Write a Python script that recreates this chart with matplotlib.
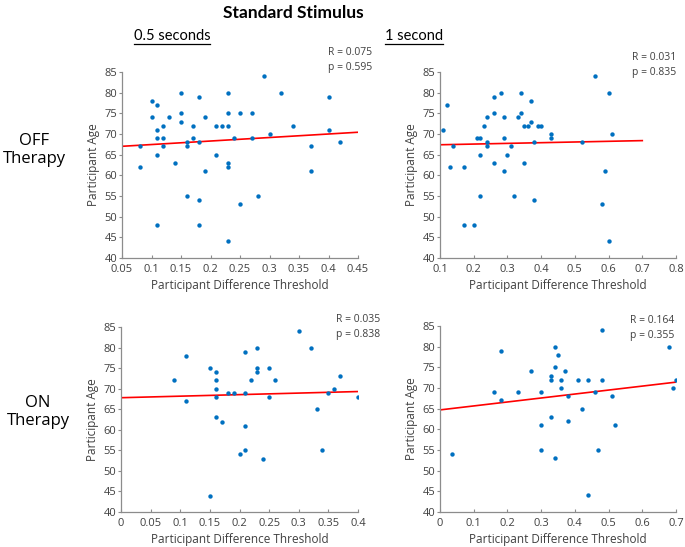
import matplotlib
matplotlib.use('Agg')
import numpy as np
import matplotlib.pyplot as plt
from matplotlib.lines import Line2D

plt.rcParams['font.family'] = ['Open Sans', 'DejaVu Sans']

# OFF therapy, 0.5 seconds
off05_x = [0.08, 0.08, 0.10, 0.10, 0.11, 0.11, 0.11, 0.11, 0.11, 0.12, 0.12, 0.12, 0.13,
           0.14, 0.15, 0.15, 0.15, 0.16, 0.16, 0.16, 0.17, 0.17, 0.18, 0.18, 0.18, 0.18,
           0.19, 0.19, 0.21, 0.21, 0.22, 0.23, 0.23, 0.23, 0.23, 0.23, 0.23, 0.24, 0.25,
           0.25, 0.27, 0.27, 0.28, 0.29, 0.30, 0.32, 0.34, 0.37, 0.37, 0.40, 0.40, 0.42]
off05_y = [67, 62, 78, 74, 77, 71, 69, 65, 48, 72, 69, 67, 74,
           63, 80, 75, 73, 68, 67, 55, 72, 69, 79, 68, 54, 48,
           74, 61, 72, 65, 72, 80, 75, 72, 63, 62, 44, 69, 75,
           53, 75, 69, 55, 84, 70, 80, 72, 67, 61, 79, 71, 68]

# OFF therapy, 1 second
off1_x = [0.11, 0.12, 0.13, 0.14, 0.17, 0.17, 0.20, 0.21, 0.22, 0.22, 0.22, 0.23, 0.24,
          0.24, 0.24, 0.26, 0.26, 0.26, 0.28, 0.29, 0.29, 0.29, 0.30, 0.31, 0.32, 0.33,
          0.34, 0.34, 0.35, 0.35, 0.36, 0.37, 0.37, 0.38, 0.38, 0.39, 0.40, 0.43, 0.43,
          0.52, 0.56, 0.58, 0.59, 0.60, 0.60, 0.61]
off1_y = [71, 77, 62, 67, 62, 48, 48, 69, 69, 65, 55, 72, 74,
          68, 67, 79, 75, 63, 80, 74, 69, 61, 65, 67, 55, 74,
          80, 75, 72, 63, 72, 78, 73, 68, 54, 72, 72, 70, 69,
          68, 84, 53, 61, 80, 44, 70]

# ON therapy, 0.5 seconds
on05_x = [0.09, 0.11, 0.11, 0.15, 0.15, 0.16, 0.16, 0.16, 0.16, 0.16, 0.17, 0.18, 0.19,
          0.20, 0.21, 0.21, 0.21, 0.21, 0.22, 0.23, 0.23, 0.23, 0.24, 0.25, 0.25, 0.26,
          0.30, 0.32, 0.33, 0.34, 0.35, 0.36, 0.37, 0.40]
on05_y = [72, 78, 67, 75, 44, 74, 72, 70, 68, 63, 62, 69, 69,
          54, 79, 69, 61, 55, 72, 80, 75, 74, 53, 75, 68, 72,
          84, 80, 65, 55, 69, 70, 73, 68]

# ON therapy, 1 second
on1_x = [0.035, 0.16, 0.18, 0.18, 0.23, 0.27, 0.30, 0.30, 0.30, 0.33, 0.33, 0.33,
         0.34, 0.34, 0.34, 0.35, 0.36, 0.36, 0.37, 0.38, 0.38, 0.41, 0.42, 0.44,
         0.44, 0.46, 0.47, 0.48, 0.48, 0.51, 0.52, 0.68, 0.69, 0.70]
on1_y = [54, 69, 79, 67, 69, 74, 69, 61, 55, 73, 72, 63,
         80, 75, 53, 78, 72, 70, 74, 68, 62, 72, 65, 72,
         44, 69, 55, 84, 72, 68, 61, 80, 70, 72]

# linear trend lines: (intercept, slope, x from, x to)
trend_off05 = (66.6, 8.5, 0.05, 0.45)
trend_off1 = (67.23, 1.67, 0.1, 0.7)
trend_on05 = (67.8, 3.75, 0.0, 0.4)
trend_on1 = (64.7, 9.6, 0.0, 0.7)

stats_text = ['R = 0.075\np = 0.595', 'R = 0.031\np = 0.835',
              'R = 0.035\np = 0.838', 'R = 0.164\np = 0.355']

panels = [
    (off05_x, off05_y, trend_off05, (0.05, 0.45), np.arange(0.05, 0.451, 0.05)),
    (off1_x, off1_y, trend_off1, (0.1, 0.8), np.arange(0.1, 0.81, 0.1)),
    (on05_x, on05_y, trend_on05, (0, 0.4), np.arange(0, 0.401, 0.05)),
    (on1_x, on1_y, trend_on1, (0, 0.7), np.arange(0, 0.71, 0.1)),
]

W, H = 685, 547
fig = plt.figure(figsize=(W / 100, H / 100), dpi=100)

# axes boxes in pixels: left, top, right, bottom
boxes = [(122, 72, 358, 258), (440, 72, 676, 258),
         (121, 327, 358, 512), (440, 326, 676, 512)]
text_pos = [(328, 60), (632, 65), (336, 327), (630, 328)]

def fmt(v):
    s = ('%.2f' % v).rstrip('0').rstrip('.')
    return s

for i, (x, y, trend, xlim, xticks) in enumerate(panels):
    l, t, r, b = boxes[i]
    ax = fig.add_axes([l / W, 1 - b / H, (r - l) / W, (b - t) / H])
    ax.scatter(x, y, s=10, color='#0070C0', zorder=3, linewidths=0)
    c, k, x0, x1 = trend
    lx = np.array([x0, x1])
    ax.plot(lx, c + k * lx, color='#FF0000', lw=1.2, zorder=2)
    ax.set_xlim(*xlim)
    ax.set_ylim(40, 85)
    ax.set_xticks(xticks)
    ax.set_xticklabels([fmt(v) for v in xticks])
    ax.set_yticks(np.arange(40, 86, 5))
    for s in ['top', 'right']:
        ax.spines[s].set_visible(False)
    for s in ['left', 'bottom']:
        ax.spines[s].set_color('#8c8c8c')
        ax.spines[s].set_linewidth(0.9)
    ax.tick_params(axis='x', direction='in', length=2.5, color='#8c8c8c',
                   labelsize=8, labelcolor='#404040', pad=4)
    ax.tick_params(axis='y', direction='out', length=2.5, color='#8c8c8c',
                   labelsize=8, labelcolor='#404040', pad=1)
    ax.set_xlabel('Participant Difference Threshold', fontsize=8.5, color='#404040', labelpad=3)
    ax.set_ylabel('Participant Age', fontsize=8.5, color='#404040', labelpad=3)
    tx, ty = text_pos[i]
    fig.text(tx / W, 1 - ty / H, stats_text[i], fontsize=7.5, color='#404040',
             ha='left', va='center', linespacing=1.5)

fig.text(293 / W, 1 - 13 / H, 'Standard Stimulus', fontsize=12.5, fontweight='bold',
         ha='center', va='center', family=['Lato', 'DejaVu Sans'])

fig.canvas.draw()
renderer = fig.canvas.get_renderer()
for label, cx in [('0.5 seconds', 172), ('1 second', 414)]:
    t = fig.text(cx / W, 1 - 36 / H, label, fontsize=10.5, ha='center', va='center',
                 family=['Lato', 'DejaVu Sans'])
    bb = t.get_window_extent(renderer=renderer)
    x0, x1 = bb.x0 / W, bb.x1 / W
    yline = (bb.y0 - 1) / H
    fig.add_artist(Line2D([x0, x1], [yline, yline], color='black', lw=0.9,
                          transform=fig.transFigure))

fig.text(34 / W, 1 - 150 / H, 'OFF\nTherapy', fontsize=12, ha='center', va='center',
         linespacing=1.1)
fig.text(38 / W, 1 - 412 / H, 'ON\nTherapy', fontsize=12, ha='center', va='center',
         linespacing=1.1)

fig.savefig('out.png', dpi=100)
